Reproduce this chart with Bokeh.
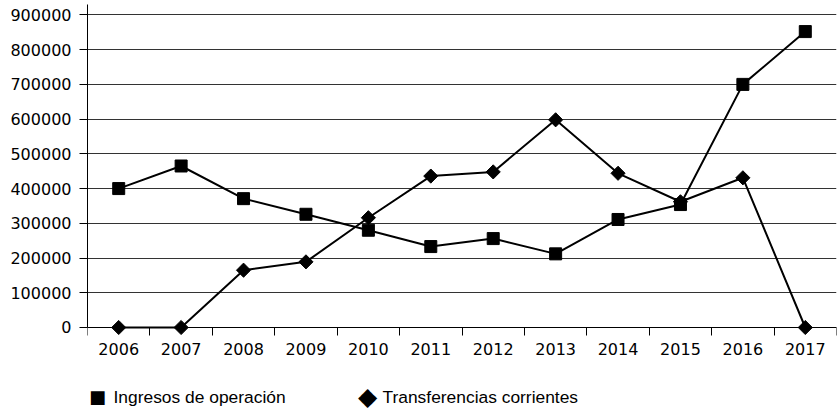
import math

from bokeh.plotting import figure
from bokeh.models import FixedTicker, Label, Range1d
from bokeh.embed import file_html
from bokeh.resources import INLINE

years = ["2006", "2007", "2008", "2009", "2010", "2011",
         "2012", "2013", "2014", "2015", "2016", "2017"]
ingresos_operacion = [400000, 465000, 371000, 326000, 280000, 233000,
                      256000, 212000, 311000, 354000, 700000, 852000]
transferencias_corrientes = [0, 0, 165000, 189000, 316000, 436000,
                             448000, 598000, 444000, 362000, 431000, 0]
y_ticks = [0, 100000, 200000, 300000, 400000, 500000,
           600000, 700000, 800000, 900000]
series_names = ["Ingresos de operación", "Transferencias corrientes"]

# one unit per year; marks sit at the middle of each year's slot
xs = [i + 0.5 for i in range(len(years))]
slot_edges = list(range(len(years) + 1))

TICK_FONT = "DejaVu Sans"
LABEL_FONT = "Liberation Sans"
Y_TOP = 930000
# the frame runs on below zero so the key can sit under the year labels
Y_BOTTOM = -239000
KEY_Y = -199000

p = figure(width=839, height=410, output_backend="svg", toolbar_location=None,
           x_range=Range1d(0, len(years)), y_range=Range1d(Y_BOTTOM, Y_TOP),
           min_border_left=87, min_border_right=3, min_border_top=4,
           min_border_bottom=0)
p.outline_line_color = None
p.background_fill_color = "white"
p.border_fill_color = "white"

# x axis pinned at zero: labels at slot centres, tick marks on slot edges
xax = p.xaxis[0]
xax.fixed_location = 0
xax.ticker = FixedTicker(ticks=xs, minor_ticks=slot_edges)
xax.major_label_overrides = {x: y for x, y in zip(xs, years)}
xax.major_tick_out = 0
xax.major_tick_in = 0
xax.minor_tick_out = 8
xax.minor_tick_in = 0
xax.minor_tick_line_color = "black"
xax.minor_tick_line_width = 1
xax.axis_line_color = "black"
xax.axis_line_width = 1
xax.major_label_text_font = TICK_FONT
xax.major_label_text_font_size = "16px"
xax.major_label_text_color = "black"
xax.major_label_standoff = 8

yax = p.yaxis[0]
yax.bounds = (0, Y_TOP)
yax.ticker = FixedTicker(ticks=y_ticks)
yax.major_label_overrides = {v: str(v) for v in y_ticks}
yax.major_tick_out = 8
yax.major_tick_in = 0
yax.minor_tick_line_color = None
yax.major_tick_line_color = "black"
yax.axis_line_color = "black"
yax.axis_line_width = 1
yax.major_label_text_font = TICK_FONT
yax.major_label_text_font_size = "16px"
yax.major_label_text_color = "black"
yax.major_label_standoff = 8

p.xgrid.grid_line_color = None
p.ygrid.ticker = FixedTicker(ticks=y_ticks)
p.ygrid.grid_line_color = "#333333"
p.ygrid.grid_line_width = 1

p.line(xs, ingresos_operacion, line_color="black", line_width=2)
p.line(xs, transferencias_corrientes, line_color="black", line_width=2)
p.scatter(xs, ingresos_operacion, marker="square", size=12,
          fill_color="black", line_color="black")
p.scatter(xs, transferencias_corrientes, marker="square", size=10,
          angle=math.pi / 4, fill_color="black", line_color="black")

# key: symbol + name for each series, offsets in px from the frame's left edge
key_entries = [("\u25a0", 18, 10, 26), ("\u25c6", 25, 280, 295)]
for name, (symbol, sym_size, sym_x, text_x) in zip(series_names, key_entries):
    p.add_layout(Label(x=sym_x, y=KEY_Y, x_units="screen", y_units="data",
                       text=symbol, text_font=TICK_FONT,
                       text_font_size=f"{sym_size}px", text_color="black",
                       text_align="center", text_baseline="middle"))
    p.add_layout(Label(x=text_x, y=KEY_Y, x_units="screen", y_units="data",
                       text=name, text_font=LABEL_FONT,
                       text_font_size="17.4px", text_color="black",
                       text_align="left", text_baseline="middle"))

open("out.html", "w").write(file_html(p, INLINE))
